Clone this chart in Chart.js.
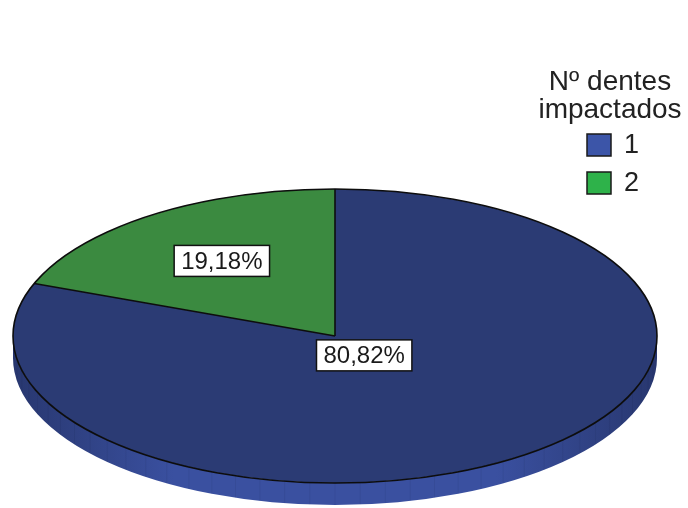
<!DOCTYPE html>
<html>
<head>
<meta charset="utf-8">
<script src="https://cdn.jsdelivr.net/npm/chart.js@4/dist/chart.umd.min.js"></script>
<style>
  html, body { margin: 0; padding: 0; background: #ffffff; }
  #wrap { width: 688px; height: 508px; }
</style>
</head>
<body>
<div id="wrap"><canvas id="c" width="688" height="508"></canvas></div>
<script>
// Number of impacted teeth per patient (share of cases, %)
const categories = ['1', '2'];
const shares = [80.82, 19.18];
const valueLabels = ['80,82%', '19,18%'];
const legendTitle = ['Nº dentes', 'impactados'];

const topColors = ['#2b3b74', '#3b8a40'];
const sideColors = ['#3a50a0', '#2f7a36'];
const sideEdgeColors = ['#28376f', '#24602a'];
const legendColors = ['#3c55a8', '#2eb24a'];

const FONT = '"Liberation Sans", Arial, sans-serif';

// Tilted-disc geometry: the pie's own arcs are mapped onto this ellipse.
const disc = { cx: 335, cy: 336, rx: 322, ry: 147, depth: 22 };
// Radial position of each value label, as a fraction of the radius.
const labelRadius = [0.16, 0.62];

function arcs(chart) {
  return chart.getDatasetMeta(0).data;
}

const tiltedPie = {
  id: 'tiltedPie',
  beforeDatasetsDraw(chart) {
    const ctx = chart.ctx;
    const els = arcs(chart);
    if (!els.length) return;
    const { cx, cy, rx, ry, depth } = disc;

    // Side wall of the disc (only the front half is visible)
    els.forEach((el, i) => {
      const a0 = Math.max(el.startAngle, 0);
      const a1 = Math.min(el.endAngle, Math.PI);
      if (a1 <= a0) return;
      const g = ctx.createLinearGradient(cx - rx, 0, cx + rx, 0);
      g.addColorStop(0, sideEdgeColors[i]);
      g.addColorStop(0.25, sideColors[i]);
      g.addColorStop(0.75, sideColors[i]);
      g.addColorStop(1, sideEdgeColors[i]);
      ctx.save();
      ctx.beginPath();
      ctx.ellipse(cx, cy, rx, ry, 0, a0, a1, false);
      ctx.ellipse(cx, cy + depth, rx, ry, 0, a1, a0, true);
      ctx.closePath();
      ctx.fillStyle = g;
      ctx.fill();
      // faint vertical facets on the wall
      ctx.clip();
      ctx.strokeStyle = 'rgba(20,30,70,0.09)';
      ctx.lineWidth = 1;
      for (let t = a0; t <= a1; t += Math.PI / 40) {
        const x = cx + rx * Math.cos(t);
        const y = cy + ry * Math.sin(t);
        ctx.beginPath();
        ctx.moveTo(x, y);
        ctx.lineTo(x, y + depth + 2);
        ctx.stroke();
      }
      ctx.restore();
    });

    // Map the library's circular pie onto the ellipse
    const el = els[0];
    const r0 = el.outerRadius;
    ctx.save();
    ctx.translate(cx, cy);
    ctx.scale(rx / r0, ry / r0);
    ctx.translate(-el.x, -el.y);
  },
  afterDatasetsDraw(chart) {
    const ctx = chart.ctx;
    const els = arcs(chart);
    if (!els.length) return;
    ctx.restore();
    const { cx, cy, rx, ry } = disc;

    // Outlines of the top face and slice edges
    ctx.save();
    ctx.strokeStyle = '#0d0d0d';
    ctx.lineWidth = 1.6;
    ctx.beginPath();
    ctx.ellipse(cx, cy, rx, ry, 0, 0, Math.PI * 2);
    ctx.stroke();
    els.forEach(el => {
      ctx.beginPath();
      ctx.moveTo(cx, cy);
      ctx.lineTo(cx + rx * Math.cos(el.startAngle), cy + ry * Math.sin(el.startAngle));
      ctx.stroke();
    });
    ctx.restore();

    // Value labels in white boxes
    ctx.save();
    ctx.font = '24px ' + FONT;
    ctx.textAlign = 'center';
    ctx.textBaseline = 'middle';
    els.forEach((el, i) => {
      const mid = (el.startAngle + el.endAngle) / 2;
      const f = labelRadius[i];
      const x = cx + f * rx * Math.cos(mid);
      const y = cy + f * ry * Math.sin(mid);
      const w = ctx.measureText(valueLabels[i]).width + 14;
      const h = 31;
      ctx.fillStyle = '#ffffff';
      ctx.fillRect(x - w / 2, y - h / 2, w, h);
      ctx.strokeStyle = '#111111';
      ctx.lineWidth = 1.5;
      ctx.strokeRect(x - w / 2, y - h / 2, w, h);
      ctx.fillStyle = '#1a1a1a';
      ctx.fillText(valueLabels[i], x, y + 1);
    });
    ctx.restore();
  },
  afterDraw(chart) {
    // Legend with title
    const ctx = chart.ctx;
    ctx.save();
    ctx.font = '28px ' + FONT;
    ctx.fillStyle = '#222222';
    ctx.textAlign = 'center';
    ctx.textBaseline = 'alphabetic';
    legendTitle.forEach((t, i) => ctx.fillText(t, 610, 90 + i * 28));
    ctx.font = '27px ' + FONT;
    ctx.textAlign = 'left';
    ctx.textBaseline = 'middle';
    chart.data.labels.forEach((lab, i) => {
      const y = 145 + i * 38;
      ctx.fillStyle = legendColors[i];
      ctx.fillRect(587, y - 11, 24, 22);
      ctx.strokeStyle = '#1a1a1a';
      ctx.lineWidth = 1.5;
      ctx.strokeRect(587, y - 11, 24, 22);
      ctx.fillStyle = '#222222';
      ctx.fillText(lab, 624, y + 1);
    });
    ctx.restore();
  }
};

new Chart(document.getElementById('c'), {
  type: 'pie',
  data: {
    labels: categories,
    datasets: [{
      data: shares,
      backgroundColor: topColors,
      borderWidth: 0
    }]
  },
  options: {
    responsive: false,
    animation: false,
    events: [],
    layout: { padding: { left: 40, right: 200, top: 20, bottom: 20 } },
    plugins: {
      legend: { display: false },
      tooltip: { enabled: false }
    }
  },
  plugins: [tiltedPie]
});
</script>
</body>
</html>
